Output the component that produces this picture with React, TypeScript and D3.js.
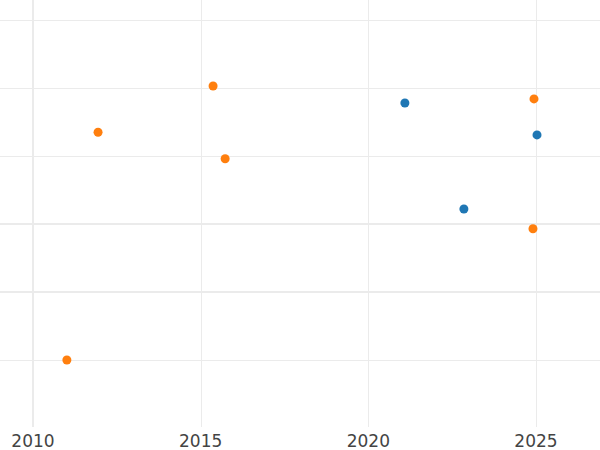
import React from "react";
import * as d3 from "d3";

const xTicks = [2010, 2015, 2020, 2025];
const yGrid = [1, 2, 3, 4, 5, 6];
const orangeX = [2011.01, 2011.94, 2015.37, 2015.73, 2024.94, 2024.91];
const orangeY = [1.0, 4.35, 5.03, 3.96, 4.84, 2.93];
const blueX = [2021.09, 2022.85, 2025.03];
const blueY = [4.78, 3.22, 4.31];

export default function App() {
  const W = 600, H = 450;
  const x = d3.scaleLinear().domain([2010, 2025]).range([33, 536]);
  const y = d3.scaleLinear().domain([0, 6]).range([428, 20]);
  const thick = new Set([2, 3]);
  return (
    <svg width={W} height={H} style={{ position: "absolute", left: 0, top: 0, background: "#fff" }}>
      {yGrid.map((v) => (
        <line key={"h" + v} x1={0} x2={W}
          y1={thick.has(v) ? y(v) : Math.round(y(v)) + 0.5}
          y2={thick.has(v) ? y(v) : Math.round(y(v)) + 0.5}
          stroke="#ebebeb" strokeWidth={thick.has(v) ? 2 : 1} />
      ))}
      {xTicks.map((t, i) => (
        <line key={"v" + t} x1={i === 0 ? x(t) : Math.round(x(t)) + 0.5} x2={i === 0 ? x(t) : Math.round(x(t)) + 0.5}
          y1={0} y2={427} stroke="#ebebeb" strokeWidth={i === 0 ? 2 : 1} />
      ))}
      {xTicks.map((t) => (
        <text key={"t" + t} x={x(t)} y={447} textAnchor="middle" fontFamily="DejaVu Sans" fontSize={17} fill="#444">{t}</text>
      ))}
      {orangeX.map((v, i) => (
        <circle key={"o" + i} cx={x(v)} cy={y(orangeY[i])} r={4.5} fill="#ff7f0e" />
      ))}
      {blueX.map((v, i) => (
        <circle key={"b" + i} cx={x(v)} cy={y(blueY[i])} r={4.5} fill="#1f77b4" />
      ))}
    </svg>
  );
}
